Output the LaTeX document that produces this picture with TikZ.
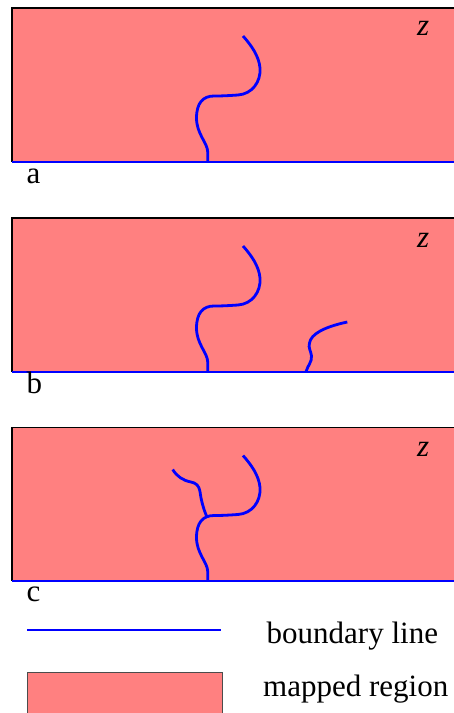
\documentclass[tikz,border=0pt]{standalone}
\usepackage{fontspec}
\setmainfont{Liberation Serif}
\definecolor{mapred}{RGB}{255,128,128}
\begin{document}
\begin{tikzpicture}[x=1pt,y=-1pt,
  region/.style={fill=mapred,draw=none},
  frameline/.style={draw=black,line width=1.2pt},
  baseblue/.style={draw=blue,line width=2.4pt},
  crack/.style={draw=blue,line width=2.8pt},
  lbl/.style={font=\fontsize{31}{36}\selectfont,inner sep=0pt},
  zlbl/.style={font=\fontsize{31}{36}\selectfont\itshape,inner sep=0pt,anchor=base west}]
\useasboundingbox (0,0) rectangle (454,713);
% panel a
\begin{scope}
  \fill[region] (12,8) rectangle (454,161.7);
  \draw[frameline] (454,8) -- (12,8) -- (12,161.7);
  \draw[baseblue] (12,161.7) -- (454,161.7);
  \draw[crack] (207.7,161.7) -- (207.7,152) .. controls (207.7,143) and (196.5,134) .. (196.5,118)
     .. controls (196.5,103) and (203,96) .. (214,96) .. controls (224,96) and (230,95.5) .. (238,95)
     .. controls (252,94) and (261,82) .. (260,68) .. controls (259,56) and (251,45) .. (243,36);
  \node[zlbl] (za) at (417,35) {z};
  \node[lbl,anchor=base west] (la) at (26.5,183) {a};
\end{scope}
% panel b
\begin{scope}[shift={(0,210)}]
  \fill[region] (12,8) rectangle (454,161.7);
  \draw[frameline] (454,8) -- (12,8) -- (12,161.7);
  \draw[baseblue] (12,161.7) -- (454,161.7);
  \draw[crack] (207.7,161.7) -- (207.7,152) .. controls (207.7,143) and (196.5,134) .. (196.5,118)
     .. controls (196.5,103) and (203,96) .. (214,96) .. controls (224,96) and (230,95.5) .. (238,95)
     .. controls (252,94) and (261,82) .. (260,68) .. controls (259,56) and (251,45) .. (243,36);
  \draw[crack] (306,161.7) .. controls (308,155) and (312,152) .. (311.5,146)
     .. controls (311,141) and (308,138) .. (309.5,133)
     .. controls (311,124) and (324,117) .. (347.3,112);
  \node[zlbl] (zb) at (417,37) {z};
  \node[lbl,anchor=base west] (lb) at (26.5,183) {b};
\end{scope}
% panel c
\begin{scope}[shift={(0,419.5)}]
  \fill[region] (12,8) rectangle (454,161.7);
  \draw[frameline] (454,8) -- (12,8) -- (12,161.7);
  \draw[baseblue] (12,161.7) -- (454,161.7);
  \draw[crack] (207.7,161.7) -- (207.7,152) .. controls (207.7,143) and (196.5,134) .. (196.5,118)
     .. controls (196.5,103) and (203,96) .. (214,96) .. controls (224,96) and (230,95.5) .. (238,95)
     .. controls (252,94) and (261,82) .. (260,68) .. controls (259,56) and (251,45) .. (243,36);
  \draw[crack] (206.7,97) .. controls (203,88) and (201,80) .. (200,72)
     .. controls (199,66) and (196,63.5) .. (191,62.5)
     .. controls (183,61) and (177,57) .. (172.7,50);
  \node[zlbl] (zc) at (417,37) {z};
  \node[lbl,anchor=base west] (lc) at (26.5,182) {c};
\end{scope}
% legend
\coordinate (l1) at (27,630);
\coordinate (l2) at (221,630);
\draw[draw=blue,line width=2.4pt] (l1) -- (l2);
\node[lbl,anchor=base west] (tbl) at (266.5,643) {boundary line};
\fill[region] (27,672) rectangle (222,716);
\draw[draw=black!70,line width=1pt] (27,716) -- (27,672) -- (222,672) -- (222,716);
\node[lbl,anchor=base west] (tmr) at (263,696.5) {mapped region};
\end{tikzpicture}
\end{document}
